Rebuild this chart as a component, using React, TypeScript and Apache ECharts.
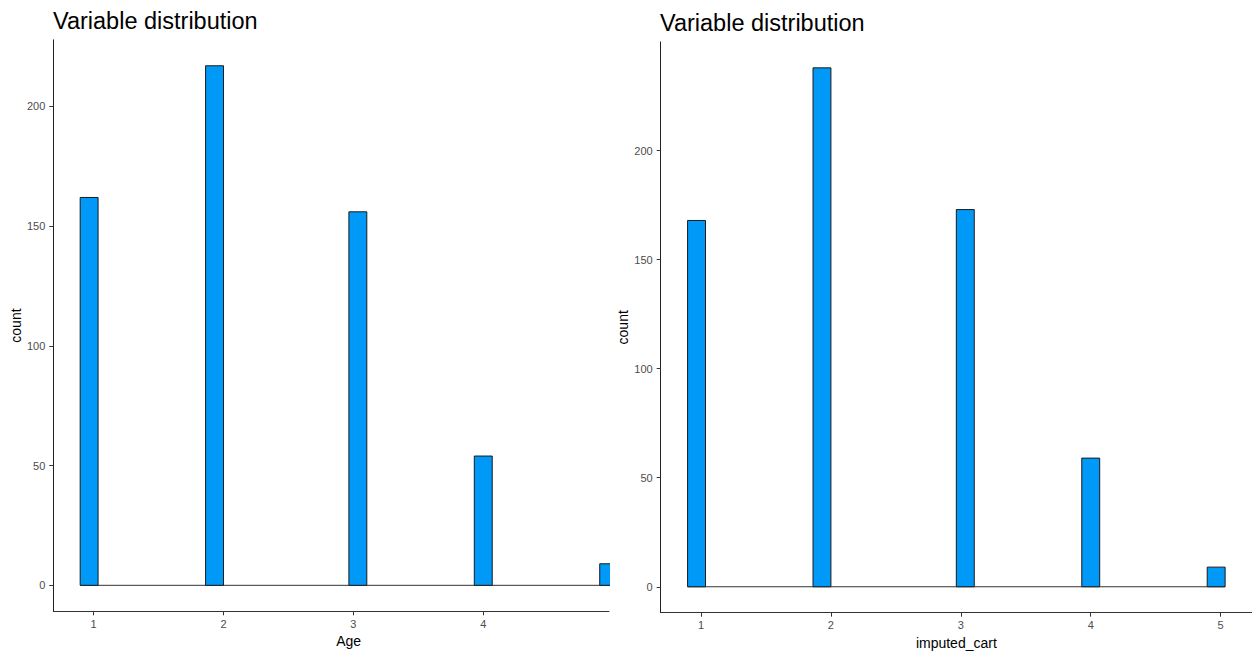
import React, { useEffect, useRef } from "react";
import * as echarts from "echarts";

// Histogram bins (bins = 30), only non-empty bins listed
const binStart = [0.8966, 1.8621, 2.9655, 3.931, 4.8966];
const binEnd = [1.0345, 2.0, 3.1034, 4.069, 5.0345];
const ageCounts = [162, 217, 156, 54, 9];
const cartCounts = [168, 238, 173, 59, 9];

const leftXTicks = [1, 2, 3, 4];
const rightXTicks = [1, 2, 3, 4, 5];
const yTicks = [0, 50, 100, 150, 200];

const titleText = "Variable distribution";
const leftXName = "Age";
const rightXName = "imputed_cart";
const yName = "count";

const FONT = "Liberation Sans, Arial, sans-serif";
const FILL = "#0099f8";

function makeBars(counts: number[]) {
  return counts.map((c, i) => [binStart[i], binEnd[i], c]);
}

const renderBar = (params: any, api: any) => {
  const p0 = api.coord([api.value(0), api.value(2)]);
  const p1 = api.coord([api.value(1), 0]);
  return {
    type: "rect",
    shape: { x: p0[0], y: p0[1], width: p1[0] - p0[0], height: p1[1] - p0[1] },
    style: { fill: FILL, stroke: "#1a1a1a", lineWidth: 1 },
  };
};

function xAxisCfg(idx: number, min: number, max: number, ticks: number[], name: string, shiftPad: number) {
  return {
    gridIndex: idx,
    type: "value",
    min,
    max,
    name,
    nameLocation: "middle",
    nameGap: 19,
    nameTextStyle: { fontFamily: FONT, fontSize: 14, color: "#000", padding: [0, 0, 0, shiftPad] },
    axisLine: { show: true, onZero: false, lineStyle: { color: "#333", width: 1 } },
    axisTick: { show: true, length: 4, customValues: ticks, lineStyle: { color: "#333" } },
    axisLabel: { customValues: ticks, margin: 7, fontFamily: FONT, fontSize: 11, color: "#4d4d4d" },
    splitLine: { show: false },
  };
}

function yAxisCfg(idx: number, min: number, max: number) {
  return {
    gridIndex: idx,
    type: "value",
    min,
    max,
    name: yName,
    nameLocation: "middle",
    nameGap: 28,
    nameTextStyle: { fontFamily: FONT, fontSize: 14, color: "#000" },
    axisLine: { show: true, onZero: false, lineStyle: { color: "#222", width: 1 } },
    axisTick: { show: true, length: 4, customValues: yTicks, lineStyle: { color: "#333" } },
    axisLabel: { customValues: yTicks, margin: 8, fontFamily: FONT, fontSize: 11, color: "#4d4d4d" },
    splitLine: { show: false },
  };
}

export default function App() {
  const ref = useRef<HTMLDivElement>(null);
  useEffect(() => {
    document.body.style.margin = "0";
    const chart = echarts.init(ref.current!, null, { renderer: "svg" });
    const last = binEnd.length - 1;
    chart.setOption({
      animation: false,
      backgroundColor: "#fff",
      title: [
        {
          text: titleText,
          left: 53,
          top: 9,
          padding: 0,
          textStyle: { fontFamily: FONT, fontSize: 23.5, fontWeight: "normal", color: "#000" },
        },
        {
          text: titleText,
          left: 660,
          top: 11,
          padding: 0,
          textStyle: { fontFamily: FONT, fontSize: 23.5, fontWeight: "normal", color: "#000" },
        },
      ],
      grid: [
        { left: 53.3, top: 39.8, width: 555.7, height: 571.5, containLabel: false, outerBoundsMode: "none" },
        { left: 660.7, top: 41.9, width: 591.3, height: 570.8, containLabel: false, outerBoundsMode: "none" },
      ],
      xAxis: [
        xAxisCfg(0, 0.6897, 4.968, leftXTicks, leftXName, 35),
        xAxisCfg(1, 0.6897, 5.2414, rightXTicks, rightXName, 0),
      ],
      yAxis: [yAxisCfg(0, -10.85, 227.85), yAxisCfg(1, -11.9, 249.9)],
      series: [
        {
          type: "line",
          xAxisIndex: 0,
          yAxisIndex: 0,
          data: [[binStart[0], 0], [binEnd[last], 0]],
          symbol: "none",
          clip: true,
          lineStyle: { color: "#333", width: 1 },
          z: 1,
        },
        {
          type: "custom",
          xAxisIndex: 0,
          yAxisIndex: 0,
          data: makeBars(ageCounts),
          renderItem: renderBar,
          clip: true,
          z: 2,
        },
        {
          type: "line",
          xAxisIndex: 1,
          yAxisIndex: 1,
          data: [[binStart[0], 0], [binEnd[last], 0]],
          symbol: "none",
          clip: true,
          lineStyle: { color: "#333", width: 1 },
          z: 1,
        },
        {
          type: "custom",
          xAxisIndex: 1,
          yAxisIndex: 1,
          data: makeBars(cartCounts),
          renderItem: renderBar,
          clip: true,
          z: 2,
        },
      ],
    });
    return () => chart.dispose();
  }, []);
  return (
    <div
      ref={ref}
      style={{ position: "fixed", left: 0, top: 0, width: 1252, height: 651 }}
    />
  );
}
